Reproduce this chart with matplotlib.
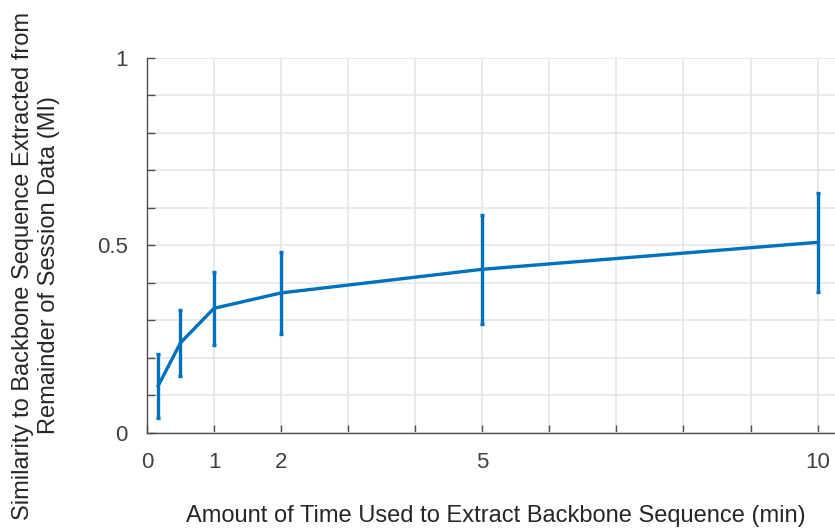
import matplotlib.pyplot as plt

# duration of data used for the backbone (minutes) and similarity (MI)
minutes = [1 / 6, 0.5, 1, 2, 5, 10]
similarity = [0.125, 0.24, 0.332, 0.373, 0.436, 0.508]
sim_err = [0.086, 0.088, 0.097, 0.109, 0.145, 0.132]

x_ticks = list(range(0, 11))
x_labels = ["0", "1", "2", "", "", "5", "", "", "", "", "10"]
y_ticks = [i / 10 for i in range(11)]
y_labels = ["0", "", "", "", "", "0.5", "", "", "", "", "1"]

plt.rcParams["font.family"] = ["Liberation Sans", "DejaVu Sans"]

fig = plt.figure(figsize=(8.35, 5.31), dpi=100)
ax = fig.add_axes([0.176, 0.185, 0.824, 0.706])

ax.errorbar(minutes, similarity, yerr=sim_err, color="#0072BD", linewidth=2.4,
            elinewidth=2.4, capsize=1.5, capthick=2.4, zorder=3)

ax.set_xlim(0, 10.26)
ax.set_ylim(0, 1)
ax.set_xticks(x_ticks)
ax.set_xticklabels(x_labels)
ax.set_yticks(y_ticks)
ax.set_yticklabels(y_labels)

ax.grid(True, color="#e6e6e6", linewidth=1.2)
ax.set_axisbelow(True)
for side in ["top", "right"]:
    ax.spines[side].set_visible(False)
for side in ["left", "bottom"]:
    ax.spines[side].set_color("#4d4d4d")
    ax.spines[side].set_linewidth(1.0)
ax.tick_params(direction="in", length=6, width=1.0, color="#4d4d4d",
               labelsize=16, labelcolor="#404040", pad=14)

fig.text(0.594, 0.017, "Amount of Time Used to Extract Backbone Sequence (min)",
         fontsize=17, color="#262626", ha="center", va="baseline")
fig.text(0.043, 0.5, "Similarity to Backbone Sequence Extracted from\nRemainder of Session Data (MI)",
         fontsize=17, color="#262626", ha="center", va="center", rotation=90,
         multialignment="center")

fig.savefig("out.png", dpi=100)
